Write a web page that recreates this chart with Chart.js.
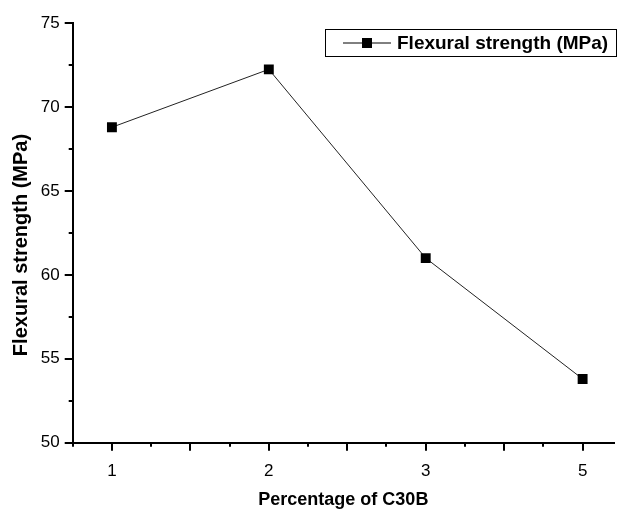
<!DOCTYPE html>
<html>
<head>
<meta charset="utf-8">
<script src="https://cdn.jsdelivr.net/npm/chart.js@4.4.1/dist/chart.umd.min.js"></script>
<style>
  body { margin: 0; background: #fff; }
  #wrap { width: 621px; height: 511px; position: relative; }
</style>
</head>
<body>
<div id="wrap"><canvas id="strengthChart"></canvas></div>
<script>
// C30B content (categories) and measured flexural strength
const categories = ['1', '2', '3', '5'];
const strength = [68.8, 72.25, 61.0, 53.8];
const yTickValues = [50, 55, 60, 65, 70, 75];
const seriesName = 'Flexural strength (MPa)';
const xTitle = 'Percentage of C30B';
const yTitle = 'Flexural strength (MPa)';

const FONT = "'Liberation Sans', Arial, sans-serif";

// categories sit at positions 1..n on a linear axis
const points = strength.map((v, i) => ({ x: i + 1, y: v }));

// draws the Origin-style major/minor tick marks, the y title and the boxed legend
const originStyle = {
    id: 'originStyle',
    afterDraw(chart) {
        const ctx = chart.ctx;
        const xs = chart.scales.x;
        const ys = chart.scales.y;
        const area = chart.chartArea;
        ctx.save();
        ctx.strokeStyle = '#000';
        ctx.lineWidth = 2;

        // x ticks: major every 0.5, minor every 0.25
        for (let v = xs.min; v <= xs.max + 1e-6; v += 0.25) {
            const px = Math.round(xs.getPixelForValue(v));
            const len = Math.abs(v * 2 - Math.round(v * 2)) < 1e-6 ? 8 : 4;
            ctx.beginPath();
            ctx.moveTo(px, area.bottom);
            ctx.lineTo(px, area.bottom + len);
            ctx.stroke();
        }
        // y ticks: major every 5, minor every 2.5
        for (let v = ys.min; v <= ys.max + 1e-6; v += 2.5) {
            const py = Math.round(ys.getPixelForValue(v));
            const len = v % 5 === 0 ? 8 : 4;
            ctx.beginPath();
            ctx.moveTo(area.left, py);
            ctx.lineTo(area.left - len, py);
            ctx.stroke();
        }

        // y title, sitting a bit below the middle of the axis like the original
        ctx.fillStyle = '#000';
        ctx.font = 'bold 20px ' + FONT;
        ctx.textAlign = 'center';
        ctx.textBaseline = 'middle';
        ctx.save();
        ctx.translate(21, 245);
        ctx.rotate(-Math.PI / 2);
        ctx.fillText(yTitle, 0, 0);
        ctx.restore();

        // legend box
        const bx = 325.5, by = 29.5, bw = 291, bh = 27;
        ctx.lineWidth = 1;
        ctx.strokeRect(bx, by, bw, bh);
        const cy = by + bh / 2;
        ctx.beginPath();
        ctx.moveTo(343, cy);
        ctx.lineTo(391, cy);
        ctx.stroke();
        ctx.fillRect(362, cy - 5, 10, 10);
        ctx.font = 'bold 19px ' + FONT;
        ctx.textAlign = 'left';
        ctx.fillText(chart.data.datasets[0].label, 397, cy + 1);
        ctx.restore();
    }
};

new Chart(document.getElementById('strengthChart'), {
    type: 'line',
    data: {
        datasets: [{
            label: seriesName,
            data: points,
            borderColor: '#222',
            borderWidth: 1,
            pointStyle: 'rect',
            pointRadius: 7,
            pointBackgroundColor: '#000',
            pointBorderColor: '#000',
            pointBorderWidth: 0,
            tension: 0,
            fill: false
        }]
    },
    options: {
        responsive: true,
        maintainAspectRatio: false,
        animation: false,
        layout: { padding: { top: 20, right: 0, left: 0, bottom: 0 } },
        plugins: {
            legend: { display: false },
            tooltip: { enabled: false }
        },
        scales: {
            x: {
                type: 'linear',
                min: 0.75,
                max: 4.2,
                afterBuildTicks(scale) {
                    scale.ticks = categories.map((c, i) => ({ value: i + 1 }));
                },
                afterFit(scale) { scale.height = 68.3; },
                grid: { display: false, drawTicks: false },
                border: { display: true, color: '#000', width: 2 },
                ticks: {
                    color: '#000',
                    font: { family: FONT, size: 17 },
                    padding: 18,
                    maxRotation: 0,
                    autoSkip: false,
                    callback: (v) => categories[Math.round(v) - 1] || ''
                },
                title: {
                    display: true,
                    text: xTitle,
                    color: '#000',
                    font: { family: FONT, size: 18, weight: 'bold' },
                    padding: { top: 0, bottom: 0 }
                }
            },
            y: {
                min: 50,
                max: 75,
                afterBuildTicks(scale) {
                    scale.ticks = yTickValues.map(v => ({ value: v }));
                },
                afterFit(scale) { scale.width = 72.7; },
                grid: { display: false, drawTicks: false },
                border: { display: true, color: '#000', width: 2 },
                ticks: {
                    color: '#000',
                    font: { family: FONT, size: 17 },
                    padding: 13
                }
            }
        }
    },
    plugins: [originStyle]
});
</script>
</body>
</html>
